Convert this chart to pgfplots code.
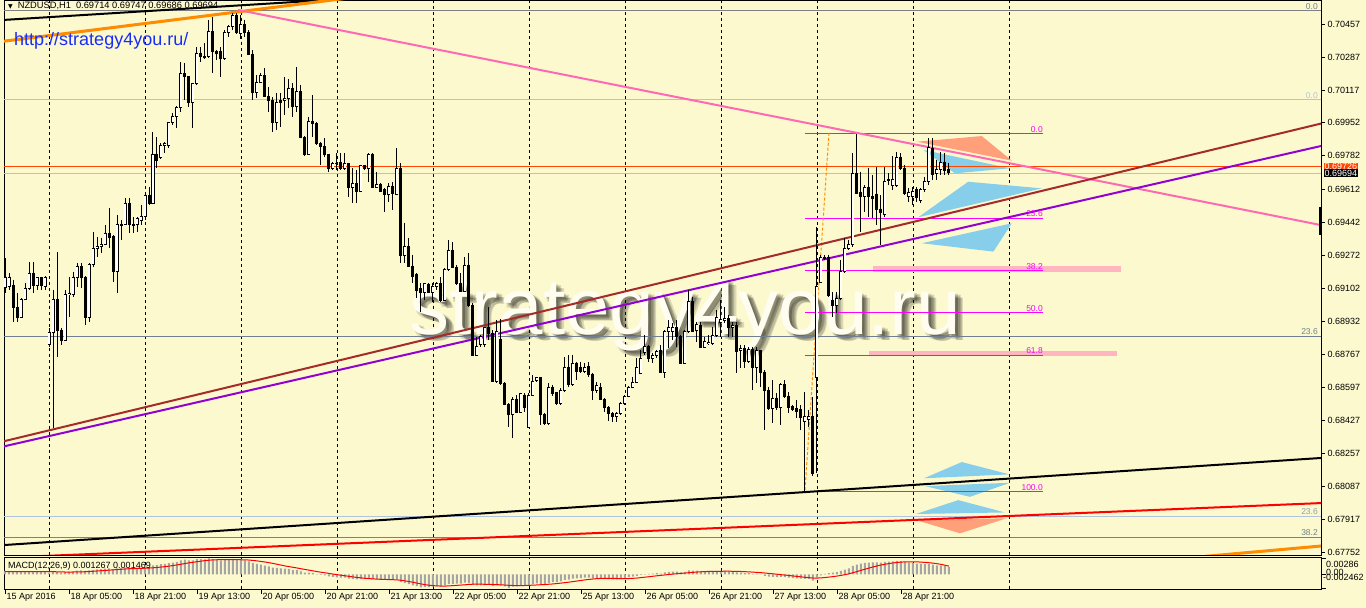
\documentclass[border=0pt]{standalone}
\usepackage{pgfplots}
\pgfplotsset{compat=1.18}
\usepackage{pgfplotstable}
\usetikzlibrary{calc}
\usepackage{fontspec}
\setmainfont{Liberation Sans}
\newfontfamily\dejavu{DejaVu Sans}
\definecolor{bg}{RGB}{252,249,206}
\definecolor{mtbrown}{RGB}{165,42,42}
\definecolor{mtviolet}{RGB}{148,0,211}
\definecolor{mtpink}{RGB}{255,105,180}
\definecolor{mtorange}{RGB}{255,140,0}
\definecolor{mtorangered}{RGB}{255,69,0}
\definecolor{mtsilver}{RGB}{192,192,192}
\definecolor{mtsteel}{RGB}{176,196,222}
\definecolor{mtslate}{RGB}{112,128,144}
\definecolor{mtgray}{RGB}{128,128,128}
\definecolor{mtlpink}{RGB}{255,182,193}
\definecolor{mtsky}{RGB}{135,206,235}
\definecolor{mtsalmon}{RGB}{255,160,122}
\definecolor{mtmagenta}{RGB}{255,0,255}
\definecolor{macdgray}{RGB}{165,165,165}
\definecolor{urlblue}{RGB}{25,45,250}

\pgfplotstableread{
i o h l c
0 0.69105 0.69258 0.69079 0.69156
1 0.69110 0.69181 0.69094 0.69161
2 0.69115 0.69146 0.68930 0.69007
3 0.69007 0.69079 0.68930 0.68956
4 0.68956 0.69053 0.68951 0.69048
5 0.69048 0.69130 0.69043 0.69100
6 0.69100 0.69238 0.69094 0.69181
7 0.69181 0.69238 0.69079 0.69115
8 0.69115 0.69161 0.69094 0.69156
9 0.69156 0.69161 0.69094 0.69115
10 0.69110 0.69166 0.69094 0.69156
11 0.68813 0.68900 0.68802 0.68879
12 0.68879 0.69094 0.68387 0.69048
13 0.69048 0.69289 0.68751 0.68889
14 0.68889 0.68900 0.68813 0.68838
15 0.68838 0.69094 0.68838 0.69069
16 0.69069 0.69161 0.68956 0.69079
17 0.69069 0.69187 0.69058 0.69161
18 0.69161 0.69233 0.69110 0.69217
19 0.69217 0.69233 0.69105 0.69161
20 0.69161 0.69166 0.68915 0.68956
21 0.68956 0.69233 0.68930 0.69227
22 0.69227 0.69391 0.69212 0.69309
23 0.69309 0.69366 0.69263 0.69315
24 0.69315 0.69361 0.69284 0.69330
25 0.69330 0.69427 0.69325 0.69386
26 0.69386 0.69514 0.69309 0.69361
27 0.69371 0.69376 0.69135 0.69187
28 0.69187 0.69479 0.69079 0.69432
29 0.69432 0.69453 0.69350 0.69427
30 0.69432 0.69566 0.69427 0.69540
31 0.69540 0.69566 0.69386 0.69432
32 0.69432 0.69468 0.69386 0.69427
33 0.69432 0.69468 0.69391 0.69463
34 0.69453 0.69530 0.69427 0.69473
35 0.69473 0.69591 0.69453 0.69581
36 0.69581 0.69622 0.69530 0.69540
37 0.69540 0.69904 0.69540 0.69791
38 0.69791 0.69878 0.69719 0.69760
39 0.69771 0.69847 0.69765 0.69837
40 0.69837 0.69853 0.69796 0.69847
41 0.69837 0.69955 0.69822 0.69950
42 0.69950 0.70001 0.69940 0.69981
43 0.69981 0.70037 0.69924 0.70027
44 0.70027 0.70262 0.70006 0.70201
45 0.70201 0.70257 0.70068 0.70186
46 0.70186 0.70186 0.70032 0.70057
47 0.70057 0.70155 0.69924 0.70150
48 0.70150 0.70339 0.70145 0.70308
49 0.70308 0.70339 0.70262 0.70288
50 0.70288 0.70360 0.70278 0.70283
51 0.70288 0.70478 0.70283 0.70421
52 0.70421 0.70493 0.70206 0.70314
53 0.70314 0.70324 0.70273 0.70308
54 0.70314 0.70339 0.70186 0.70278
55 0.70278 0.70426 0.70273 0.70411
56 0.70411 0.70452 0.70390 0.70442
57 0.70442 0.70513 0.70426 0.70503
58 0.70503 0.70513 0.70406 0.70411
59 0.70406 0.70503 0.70380 0.70452
60 0.70452 0.70478 0.70390 0.70416
61 0.70416 0.70426 0.70298 0.70303
62 0.70303 0.70324 0.70068 0.70104
63 0.70104 0.70196 0.70078 0.70155
64 0.70155 0.70206 0.70155 0.70191
65 0.70191 0.70232 0.70083 0.70088
66 0.70088 0.70134 0.70006 0.70063
67 0.70063 0.70083 0.69904 0.69950
68 0.69950 0.70104 0.69914 0.70057
69 0.70063 0.70104 0.69929 0.70057
70 0.70063 0.70186 0.69991 0.70073
71 0.70073 0.70175 0.70027 0.70129
72 0.70129 0.70155 0.69981 0.70032
73 0.70032 0.70237 0.70006 0.70109
74 0.70109 0.70145 0.69878 0.69878
75 0.69878 0.69883 0.69781 0.69791
76 0.69791 0.69981 0.69786 0.69960
77 0.69960 0.70093 0.69878 0.69945
78 0.69945 0.69955 0.69837 0.69847
79 0.69847 0.69853 0.69735 0.69827
80 0.69827 0.69873 0.69776 0.69786
81 0.69786 0.69786 0.69699 0.69719
82 0.69719 0.69750 0.69709 0.69740
83 0.69740 0.69796 0.69709 0.69745
84 0.69750 0.69796 0.69709 0.69719
85 0.69719 0.69796 0.69709 0.69740
86 0.69740 0.69745 0.69571 0.69622
87 0.69622 0.69719 0.69540 0.69642
88 0.69642 0.69709 0.69540 0.69601
89 0.69601 0.69735 0.69601 0.69730
90 0.69730 0.69735 0.69709 0.69719
91 0.69719 0.69796 0.69648 0.69786
92 0.69786 0.69796 0.69617 0.69617
93 0.69617 0.69699 0.69617 0.69637
94 0.69637 0.69642 0.69596 0.69601
95 0.69607 0.69617 0.69494 0.69586
96 0.69586 0.69642 0.69545 0.69627
97 0.69627 0.69648 0.69504 0.69591
98 0.69586 0.69822 0.69581 0.69719
99 0.69719 0.69745 0.69233 0.69269
100 0.69269 0.69438 0.69233 0.69315
101 0.69315 0.69361 0.69212 0.69217
102 0.69217 0.69274 0.69130 0.69166
103 0.69176 0.69181 0.69053 0.69094
104 0.69100 0.69130 0.68982 0.69084
105 0.69084 0.69130 0.69043 0.69130
106 0.69125 0.69130 0.69079 0.69084
107 0.69084 0.69130 0.69033 0.69110
108 0.69110 0.69135 0.69094 0.69130
109 0.69130 0.69161 0.69033 0.69043
110 0.69043 0.69207 0.69038 0.69202
111 0.69202 0.69350 0.69192 0.69299
112 0.69299 0.69340 0.69207 0.69212
113 0.69212 0.69222 0.69120 0.69130
114 0.69130 0.69181 0.69084 0.69089
115 0.69089 0.69263 0.69084 0.69222
116 0.69222 0.69284 0.69007 0.69017
117 0.69017 0.69028 0.68761 0.68761
118 0.68761 0.68854 0.68761 0.68807
119 0.68813 0.68864 0.68802 0.68854
120 0.68813 0.68905 0.68802 0.68900
121 0.68900 0.69007 0.68838 0.68874
122 0.68874 0.68889 0.68623 0.68628
123 0.68628 0.68941 0.68618 0.68884
124 0.68843 0.68946 0.68608 0.68618
125 0.68618 0.68623 0.68505 0.68510
126 0.68510 0.68515 0.68392 0.68459
127 0.68459 0.68546 0.68336 0.68536
128 0.68536 0.68556 0.68464 0.68469
129 0.68469 0.68567 0.68464 0.68562
130 0.68556 0.68567 0.68469 0.68495
131 0.68392 0.68567 0.68392 0.68556
132 0.68556 0.68659 0.68551 0.68628
133 0.68633 0.68649 0.68623 0.68644
134 0.68644 0.68649 0.68403 0.68459
135 0.68459 0.68464 0.68403 0.68413
136 0.68413 0.68618 0.68403 0.68597
137 0.68597 0.68608 0.68551 0.68562
138 0.68567 0.68572 0.68505 0.68515
139 0.68515 0.68592 0.68505 0.68582
140 0.68582 0.68751 0.68572 0.68700
141 0.68700 0.68761 0.68597 0.68608
142 0.68608 0.68761 0.68603 0.68720
143 0.68720 0.68726 0.68633 0.68679
144 0.68700 0.68726 0.68669 0.68679
145 0.68679 0.68720 0.68669 0.68695
146 0.68705 0.68726 0.68649 0.68664
147 0.68664 0.68669 0.68531 0.68582
148 0.68582 0.68623 0.68567 0.68603
149 0.68597 0.68618 0.68531 0.68536
150 0.68536 0.68541 0.68469 0.68495
151 0.68495 0.68500 0.68423 0.68464
152 0.68464 0.68469 0.68418 0.68444
153 0.68449 0.68469 0.68418 0.68464
154 0.68464 0.68521 0.68454 0.68515
155 0.68515 0.68556 0.68505 0.68551
156 0.68551 0.68603 0.68546 0.68597
157 0.68597 0.68649 0.68592 0.68623
158 0.68623 0.68746 0.68618 0.68695
159 0.68669 0.68787 0.68669 0.68741
160 0.68772 0.68864 0.68761 0.68807
161 0.68807 0.68813 0.68726 0.68746
162 0.68746 0.68772 0.68720 0.68761
163 0.68761 0.68787 0.68746 0.68777
164 0.68787 0.68813 0.68669 0.68674
165 0.68674 0.68889 0.68644 0.68884
166 0.68884 0.68941 0.68797 0.68900
167 0.68884 0.68925 0.68838 0.68900
168 0.68900 0.68941 0.68802 0.68854
169 0.68854 0.68864 0.68720 0.68720
170 0.68720 0.68889 0.68715 0.68884
171 0.68884 0.69094 0.68874 0.69033
172 0.69033 0.69058 0.68879 0.68884
173 0.68889 0.68930 0.68828 0.68920
174 0.68915 0.68930 0.68797 0.68802
175 0.68802 0.68854 0.68797 0.68833
176 0.68818 0.68864 0.68813 0.68828
177 0.68818 0.68905 0.68813 0.68859
178 0.68859 0.68992 0.68854 0.68956
179 0.68930 0.69043 0.68854 0.68941
180 0.68936 0.69007 0.68925 0.68946
181 0.68946 0.68966 0.68854 0.68900
182 0.68900 0.68930 0.68854 0.68915
183 0.68915 0.68930 0.68669 0.68777
184 0.68787 0.68813 0.68695 0.68797
185 0.68797 0.68813 0.68695 0.68726
186 0.68726 0.68802 0.68720 0.68792
187 0.68792 0.68802 0.68582 0.68700
188 0.68700 0.68802 0.68618 0.68782
189 0.68782 0.68787 0.68597 0.68674
190 0.68674 0.68685 0.68377 0.68582
191 0.68582 0.68597 0.68480 0.68485
192 0.68485 0.68633 0.68413 0.68541
193 0.68541 0.68567 0.68480 0.68495
194 0.68495 0.68618 0.68403 0.68608
195 0.68608 0.68633 0.68541 0.68551
196 0.68551 0.68572 0.68464 0.68495
197 0.68500 0.68505 0.68474 0.68480
198 0.68485 0.68531 0.68439 0.68474
199 0.68480 0.68505 0.68377 0.68439
200 0.68420 0.68572 0.68060 0.68449
201 0.68430 0.68480 0.68392 0.68444
202 0.68444 0.68546 0.68141 0.68157
203 0.68644 0.69417 0.68157 0.69110
204 0.69135 0.69274 0.69130 0.69263
205 0.69258 0.69274 0.69248 0.69263
206 0.69263 0.69274 0.69058 0.69064
207 0.69043 0.69084 0.68956 0.69017
208 0.69017 0.69084 0.68977 0.69053
209 0.69053 0.69248 0.69043 0.69187
210 0.69187 0.69361 0.69181 0.69309
211 0.69309 0.69350 0.69299 0.69325
212 0.69325 0.69796 0.69315 0.69689
213 0.69689 0.69894 0.69586 0.69591
214 0.69596 0.69699 0.69391 0.69571
215 0.69571 0.69632 0.69494 0.69617
216 0.69617 0.69719 0.69468 0.69571
217 0.69571 0.69684 0.69463 0.69561
218 0.69586 0.69724 0.69427 0.69509
219 0.69509 0.69581 0.69325 0.69489
220 0.69479 0.69724 0.69468 0.69648
221 0.69653 0.69694 0.69632 0.69658
222 0.69632 0.69781 0.69607 0.69658
223 0.69632 0.69801 0.69622 0.69771
224 0.69771 0.69796 0.69709 0.69719
225 0.69719 0.69735 0.69581 0.69591
226 0.69571 0.69617 0.69545 0.69596
227 0.69571 0.69622 0.69530 0.69601
228 0.69607 0.69622 0.69545 0.69566
229 0.69555 0.69617 0.69540 0.69607
230 0.69607 0.69673 0.69596 0.69648
231 0.69648 0.69873 0.69632 0.69822
232 0.69817 0.69873 0.69658 0.69684
233 0.69689 0.69760 0.69658 0.69714
234 0.69714 0.69801 0.69684 0.69750
235 0.69750 0.69796 0.69684 0.69709
236 0.69714 0.69747 0.69686 0.69694
}\candles

\pgfplotstableread{
i m s
0 0.6 0.5
1 0.6 0.5
2 0.5 0.5
3 0.5 0.5
4 0.45 0.5
5 0.45 0.5
6 0.5 0.5
7 0.5 0.5
8 0.55 0.5
9 0.55 0.5
10 0.55 0.5
11 0.3 0.5
12 0.4 0.48
13 0.4 0.46
14 0.3 0.44
15 0.4 0.42
16 0.45 0.42
17 0.55 0.42
18 0.65 0.43
19 0.7 0.45
20 0.6 0.47
21 0.7 0.5
22 0.8 0.55
23 0.9 0.6
24 0.95 0.65
25 1.0 0.7
26 1.05 0.75
27 0.95 0.8
28 1.05 0.85
29 1.1 0.9
30 1.2 0.95
31 1.15 1.0
32 1.1 1.03
33 1.1 1.05
34 1.1 1.07
35 1.2 1.1
36 1.3 1.12
37 1.6 1.17
38 1.7 1.23
39 1.8 1.3
40 1.85 1.38
41 2.0 1.47
42 2.1 1.57
43 2.2 1.68
44 2.5 1.8
45 2.6 1.93
46 2.5 2.05
47 2.5 2.15
48 2.7 2.25
49 2.7 2.35
50 2.65 2.45
51 2.86 2.52
52 2.7 2.58
53 2.6 2.6
54 2.5 2.62
55 2.6 2.62
56 2.65 2.62
57 2.75 2.62
58 2.6 2.62
59 2.6 2.6
60 2.5 2.58
61 2.3 2.55
62 2.0 2.48
63 1.85 2.4
64 1.75 2.3
65 1.55 2.2
66 1.4 2.08
67 1.2 1.95
68 1.15 1.8
69 1.05 1.65
70 1.0 1.5
71 0.95 1.38
72 0.8 1.26
73 0.8 1.14
74 0.55 1.0
75 0.3 0.88
76 0.3 0.75
77 0.2 0.62
78 0.05 0.5
79 -0.1 0.38
80 -0.2 0.28
81 -0.35 0.17
82 -0.45 0.05
83 -0.55 -0.05
84 -0.6 -0.15
85 -0.6 -0.25
86 -0.75 -0.35
87 -0.85 -0.45
88 -0.9 -0.55
89 -0.85 -0.62
90 -0.8 -0.7
91 -0.75 -0.75
92 -0.85 -0.8
93 -0.9 -0.85
94 -0.95 -0.88
95 -1.0 -0.9
96 -1.0 -0.93
97 -1.0 -0.95
98 -0.9 -0.97
99 -1.35 -1.05
100 -1.55 -1.15
101 -1.75 -1.27
102 -1.95 -1.4
103 -2.1 -1.55
104 -2.3 -1.7
105 -2.25 -1.82
106 -2.25 -1.93
107 -2.2 -2.0
108 -2.15 -2.05
109 -2.15 -2.08
110 -1.95 -2.08
111 -1.75 -2.05
112 -1.7 -2.0
113 -1.65 -1.95
114 -1.65 -1.9
115 -1.45 -1.85
116 -1.55 -1.78
117 -1.85 -1.75
118 -1.95 -1.75
119 -1.95 -1.75
120 -1.9 -1.76
121 -1.85 -1.78
122 -2.05 -1.8
123 -1.95 -1.83
124 -2.0 -1.86
125 -2.15 -1.9
126 -2.46 -1.95
127 -2.2 -1.98
128 -2.15 -2.0
129 -2.05 -2.0
130 -2.0 -1.98
131 -1.9 -1.95
132 -1.75 -1.92
133 -1.6 -1.88
134 -1.7 -1.84
135 -1.75 -1.8
136 -1.5 -1.75
137 -1.4 -1.7
138 -1.4 -1.63
139 -1.25 -1.55
140 -1.0 -1.47
141 -0.95 -1.38
142 -0.75 -1.28
143 -0.7 -1.18
144 -0.65 -1.08
145 -0.6 -0.98
146 -0.6 -0.9
147 -0.7 -0.82
148 -0.7 -0.76
149 -0.75 -0.72
150 -0.8 -0.7
151 -0.85 -0.7
152 -0.9 -0.72
153 -0.85 -0.74
154 -0.75 -0.76
155 -0.65 -0.76
156 -0.5 -0.74
157 -0.4 -0.7
158 -0.25 -0.65
159 -0.1 -0.58
160 0.05 -0.5
161 0.1 -0.42
162 0.15 -0.33
163 0.2 -0.25
164 0.15 -0.17
165 0.35 -0.1
166 0.45 -0.02
167 0.5 0.05
168 0.5 0.12
169 0.35 0.18
170 0.45 0.23
171 0.7 0.3
172 0.65 0.36
173 0.65 0.41
174 0.55 0.46
175 0.5 0.5
176 0.45 0.52
177 0.5 0.53
178 0.6 0.54
179 0.6 0.55
180 0.6 0.56
181 0.55 0.56
182 0.5 0.55
183 0.35 0.53
184 0.3 0.51
185 0.2 0.48
186 0.2 0.44
187 0.1 0.4
188 0.1 0.35
189 0.0 0.3
190 -0.25 0.24
191 -0.4 0.17
192 -0.45 0.1
193 -0.5 0.03
194 -0.45 -0.05
195 -0.5 -0.12
196 -0.6 -0.2
197 -0.65 -0.28
198 -0.7 -0.36
199 -0.75 -0.44
200 -0.8 -0.52
201 -0.8 -0.58
202 -1.1 -0.65
203 -0.6 -0.66
204 -0.2 -0.62
205 0.1 -0.56
206 0.2 -0.48
207 0.3 -0.4
208 0.4 -0.3
209 0.6 -0.18
210 0.85 -0.05
211 1.05 0.1
212 1.5 0.3
213 1.75 0.5
214 1.9 0.72
215 2.05 0.92
216 2.1 1.12
217 2.15 1.32
218 2.15 1.5
219 2.1 1.66
220 2.2 1.8
221 2.25 1.92
222 2.3 2.03
223 2.4 2.12
224 2.35 2.18
225 2.2 2.22
226 2.1 2.24
227 2.0 2.24
228 1.9 2.22
229 1.85 2.18
230 1.8 2.13
231 1.85 2.07
232 1.75 2.0
233 1.6 1.9
234 1.55 1.78
235 1.45 1.62
236 1.27 1.47
}\macd

\pgfplotsset{every tick label/.append style={font=\fontsize{9}{10}\selectfont}}
\tikzset{wmshadow/.style={anchor=base west, inner sep=0pt, text=black, opacity=0.13, font=\fontsize{80}{86}\selectfont}}

\begin{document}
\begin{tikzpicture}
\useasboundingbox (0pt,0pt) rectangle (1366pt,608pt);
\fill[bg] (0pt,0pt) rectangle (1366pt,608pt);

\begin{axis}[
  name=main,
  at={(4pt,53pt)}, anchor=south west, scale only axis,
  width=1317pt, height=555pt,
  xmin=-0.25, xmax=329, ymin=0.67737, ymax=0.70580,
  clip mode=individual,
  axis line style={black, line width=0.9pt},
  xtick={11,35,59,83,107,131,155,179,203,227,251}, xticklabels={},
  xtick style={draw=none},
  xmajorgrids, major grid style={black, line width=0.8pt, dash pattern=on 3pt off 3pt},
  ytick pos=right, yticklabel pos=right,
  ytick={0.70457,0.70287,0.70117,0.69952,0.69782,0.69612,0.69442,0.69272,0.69102,0.68932,0.68767,0.68597,0.68427,0.68257,0.68087,0.67917,0.67752},
  scaled y ticks=false,
  yticklabel={\pgfmathprintnumber[fixed,fixed zerofill,precision=5,assume math mode=true]{\tick}},
  ytick style={black, line width=0.8pt},
  tick align=outside, major tick length=4pt,
  yticklabel style={xshift=-1pt},
]
% watermark (blurred shadow layers then light face)
\node[wmshadow] at ($(axis cs:101.25,0.68864)+(2pt,-2pt)$) {strategy4you.ru};
\node[wmshadow] at ($(axis cs:101.25,0.68864)+(4pt,-4pt)$) {strategy4you.ru};
\node[wmshadow] at ($(axis cs:101.25,0.68864)+(6pt,-6pt)$) {strategy4you.ru};
\node[wmshadow] at ($(axis cs:101.25,0.68864)+(5pt,-2.5pt)$) {strategy4you.ru};
\node[wmshadow] at ($(axis cs:101.25,0.68864)+(2.5pt,-5pt)$) {strategy4you.ru};
\node[wmshadow] at ($(axis cs:101.25,0.68864)+(7.5pt,-6pt)$) {strategy4you.ru};
\node[anchor=base west, inner sep=0pt, text=white!70!bg, font=\fontsize{80}{86}\selectfont] at ($(axis cs:101.25,0.68864)+(-0.5pt,0.5pt)$) {strategy4you.ru};
% triangles
\addplot[fill=mtsalmon, draw=none, forget plot] coordinates {(227.9,0.69854) (244.2,0.69883) (251.7,0.69757)} --cycle;
\addplot[fill=mtsky, draw=none, forget plot] coordinates {(229.6,0.69812) (237.5,0.69692) (251.25,0.69718)} --cycle;
\addplot[fill=mtsky, draw=none, forget plot] coordinates {(228.3,0.69467) (240.8,0.69649) (259.2,0.69615)} --cycle;
\addplot[fill=mtsky, draw=none, forget plot] coordinates {(229.2,0.69334) (247.1,0.69291) (251.7,0.69436)} --cycle;
\addplot[fill=mtsky, draw=none, forget plot] coordinates {(229.75,0.68130) (239.2,0.68213) (251.1,0.68150)} --cycle;
\addplot[fill=mtsky, draw=none, forget plot] coordinates {(230,0.68090) (241.25,0.68035) (251.25,0.68107)} --cycle;
\addplot[fill=mtsky, draw=none, forget plot] coordinates {(227.75,0.67947) (238.3,0.68018) (250,0.67955)} --cycle;
\addplot[fill=mtsalmon, draw=none, forget plot] coordinates {(227.75,0.67916) (238.75,0.67848) (250.4,0.67925)} --cycle;
% pink rectangles
\addplot[fill=mtlpink, draw=none, forget plot] coordinates {(217,0.69217) (279,0.69217) (279,0.69189) (217,0.69189)} --cycle;
\addplot[fill=mtlpink, draw=none, forget plot] coordinates {(216,0.68782) (278,0.68782) (278,0.68756) (216,0.68756)} --cycle;
% horizontal lines
\addplot[mtgray, line width=0.9pt, forget plot] coordinates {(-1,0.70524) (330,0.70524)};
\addplot[mtsteel, line width=0.9pt, forget plot] coordinates {(-1,0.70068) (330,0.70068)};
\addplot[mtorangered, line width=0.9pt, forget plot] coordinates {(-1,0.69726) (330,0.69726)};
\addplot[mtsilver, line width=0.9pt, forget plot] coordinates {(-1,0.69694) (330,0.69694)};
\addplot[mtslate, line width=0.9pt, forget plot] coordinates {(-1,0.68859) (330,0.68859)};
\addplot[mtsteel, line width=0.9pt, forget plot] coordinates {(-1,0.67937) (330,0.67937)};
\addplot[mtgray, line width=0.9pt, forget plot] coordinates {(-1,0.67829) (330,0.67829)};
% fibo levels
\addplot[mtmagenta, line width=1pt, forget plot] coordinates {(200,0.69894) (259.5,0.69894)};
\addplot[mtmagenta, line width=1pt, forget plot] coordinates {(200,0.69463) (259.5,0.69463)};
\addplot[mtmagenta, line width=1pt, forget plot] coordinates {(200,0.69192) (259.5,0.69192)};
\addplot[mtmagenta, line width=1pt, forget plot] coordinates {(200,0.68977) (259.5,0.68977)};
\addplot[mtmagenta, line width=1pt, forget plot] coordinates {(200,0.68761) (259.5,0.68761)};
\addplot[mtmagenta, line width=1pt, forget plot] coordinates {(200,0.68060) (259.5,0.68060)};
\addplot[mtorange, line width=1pt, dash pattern=on 3pt off 2pt, forget plot] coordinates {(200,0.68070) (206,0.69899)};
% trend lines
\addplot[black, line width=2pt, forget plot] coordinates {(-1,0.70477) (90,0.70592)};
\addplot[mtorange, line width=3pt, forget plot] coordinates {(-1,0.70367) (85,0.70588)};
\addplot[mtorange, line width=3pt, forget plot] coordinates {(300,0.67730) (329,0.67783)};
\addplot[mtpink, line width=2pt, forget plot] coordinates {(58.25,0.70529) (329,0.69427)};
\addplot[mtbrown, line width=2pt, forget plot] coordinates {(-1,0.68316) (329,0.69947)};
\addplot[mtviolet, line width=2pt, forget plot] coordinates {(-1,0.68290) (329,0.69832)};
\addplot[black, line width=2pt, forget plot] coordinates {(-1,0.67787) (329,0.68234)};
\addplot[red, line width=2pt, forget plot] coordinates {(-1,0.67723) (329,0.68003)};
% candles: wicks
\addplot[draw=none, mark=none, forget plot, error bars/.cd, y dir=minus, y explicit, error mark=none,
  error bar style={draw=black, line width=1pt, solid}]
  table[x=i, y=h, y error minus expr={\thisrow{h}-\thisrow{l}}] {\candles};
% candles: bodies
\addplot[draw=none, mark=none, forget plot, error bars/.cd, y dir=minus, y explicit, error mark=none,
  error bar style={draw=black, line width=3pt, line cap=butt, solid}]
  table[x=i, y expr={max(\thisrow{o},\thisrow{c})+0.0000256}, y error minus expr={abs(\thisrow{o}-\thisrow{c})+0.0000512}] {\candles};
% candles: hollow bull bodies
\addplot[draw=none, mark=none, forget plot, error bars/.cd, y dir=minus, y explicit, error mark=none,
  error bar style={draw=white, line width=1.1pt, line cap=butt, solid}]
  table[x=i, y expr={\thisrow{c}-0.0000256}, y error minus expr={max(\thisrow{c}-\thisrow{o}-0.0000512,0)}] {\candles};
% fibo labels
\node[anchor=south east, inner sep=1pt, text=mtmagenta, font=\fontsize{8.5}{9}\selectfont] at (axis cs:259.75,0.69894) {0.0};
\node[anchor=south east, inner sep=1pt, text=mtmagenta, font=\fontsize{8.5}{9}\selectfont] at (axis cs:259.75,0.69463) {23.6};
\node[anchor=south east, inner sep=1pt, text=mtmagenta, font=\fontsize{8.5}{9}\selectfont] at (axis cs:259.75,0.69192) {38.2};
\node[anchor=south east, inner sep=1pt, text=mtmagenta, font=\fontsize{8.5}{9}\selectfont] at (axis cs:259.75,0.68977) {50.0};
\node[anchor=south east, inner sep=1pt, text=mtmagenta, font=\fontsize{8.5}{9}\selectfont] at (axis cs:259.75,0.68761) {61.8};
\node[anchor=south east, inner sep=1pt, text=mtmagenta, font=\fontsize{8.5}{9}\selectfont] at (axis cs:259.75,0.68060) {100.0};
% right level labels
\node[anchor=south east, inner sep=1pt, text=mtslate, font=\fontsize{8.5}{9}\selectfont] at (axis cs:328.5,0.70524) {0.0};
\node[anchor=south east, inner sep=1pt, text=mtsteel, font=\fontsize{8.5}{9}\selectfont] at (axis cs:328.5,0.70068) {0.0};
\node[anchor=south east, inner sep=1pt, text=mtslate, font=\fontsize{8.5}{9}\selectfont] at (axis cs:328.5,0.68859) {23.6};
\node[anchor=south east, inner sep=1pt, text=mtsteel!80!black, font=\fontsize{8.5}{9}\selectfont] at (axis cs:328.5,0.67937) {23.6};
\node[anchor=south east, inner sep=1pt, text=mtslate, font=\fontsize{8.5}{9}\selectfont] at (axis cs:328.5,0.67829) {38.2};
% price tags
\node[anchor=west, inner sep=1pt, fill=mtorangered, text=white, font=\fontsize{9}{10}\selectfont] at (axis cs:329.6,0.69726) {0.69726};
\node[anchor=west, inner sep=1pt, fill=black, text=white, font=\fontsize{9}{10}\selectfont] at (axis cs:329.6,0.69694) {0.69694};
\draw[black, line width=3pt] (axis cs:329,0.69520) -- (axis cs:329,0.69376);
% texts
\node[anchor=west, inner sep=0pt, font=\fontsize{9.3}{10}\selectfont] at ($(axis cs:-0.25,0.70580)+(4pt,-6pt)$) {{\dejavu\fontsize{6}{7}\selectfont ▼}\hspace{5pt}NZDUSD,H1\hspace{5pt}0.69714 0.69747 0.69686 0.69694};
\node[anchor=west, inner sep=0pt, text=urlblue, font=\fontsize{18}{20}\selectfont] at ($(axis cs:-0.25,0.70580)+(10pt,-41pt)$) {http://strategy4you.ru/};
\end{axis}

% MACD panel
\begin{axis}[
  name=macdax,
  at={(main.south west)}, anchor=north west, yshift=-2.5pt, scale only axis,
  width=1317pt, height=31.5pt,
  xmin=-0.25, xmax=329, ymin=-2.6, ymax=3.0,
  clip mode=individual,
  axis line style={black, line width=0.9pt},
  xtick={0,16,32,48,64,80,96,112,128,144,160,176,192,208,224},
  xticklabels={15 Apr 2016,18 Apr 05:00,18 Apr 21:00,19 Apr 13:00,20 Apr 05:00,20 Apr 21:00,21 Apr 13:00,22 Apr 05:00,22 Apr 21:00,25 Apr 13:00,26 Apr 05:00,26 Apr 21:00,27 Apr 13:00,28 Apr 05:00,28 Apr 21:00},
  xtick pos=left, tick align=outside, major tick length=5pt,
  xtick style={black, line width=0.8pt},
  xticklabel style={anchor=north west, inner sep=0pt, xshift=1.5pt, yshift=1pt},
  extra x ticks={11,35,59,83,107,131,155,179,203,227,251},
  extra x tick labels={},
  extra x tick style={grid=major, major tick length=0pt},
  major grid style={black, line width=0.8pt, dash pattern=on 3pt off 3pt},
  ytick={2.86,0,-2.462}, yticklabels={}, ytick pos=right,
  ytick style={black, line width=0.8pt},
]
\addplot[ybar, bar width=2pt, fill=macdgray, draw=none] table[x=i, y=m] {\macd};
\addplot[red, line width=1pt, mark=none] table[x=i, y=s] {\macd};
\node[anchor=west, inner sep=0pt, font=\fontsize{9}{10}\selectfont] at ($(axis cs:-0.25,3.0)+(4pt,-8.5pt)$) {MACD(12,26,9) 0.001267 0.001469};
\node[anchor=west, inner sep=0pt, font=\fontsize{9}{10}\selectfont] at ($(axis cs:329,3.0)+(5pt,-6.5pt)$) {0.00286};
\node[anchor=west, inner sep=0pt, font=\fontsize{9}{10}\selectfont] at ($(axis cs:329,3.0)+(5pt,-14.5pt)$) {0.00};
\node[anchor=west, inner sep=0pt, font=\fontsize{9}{10}\selectfont] at ($(axis cs:329,3.0)+(2pt,-19.5pt)$) {-0.002462};
\end{axis}
\end{tikzpicture}
\end{document}
